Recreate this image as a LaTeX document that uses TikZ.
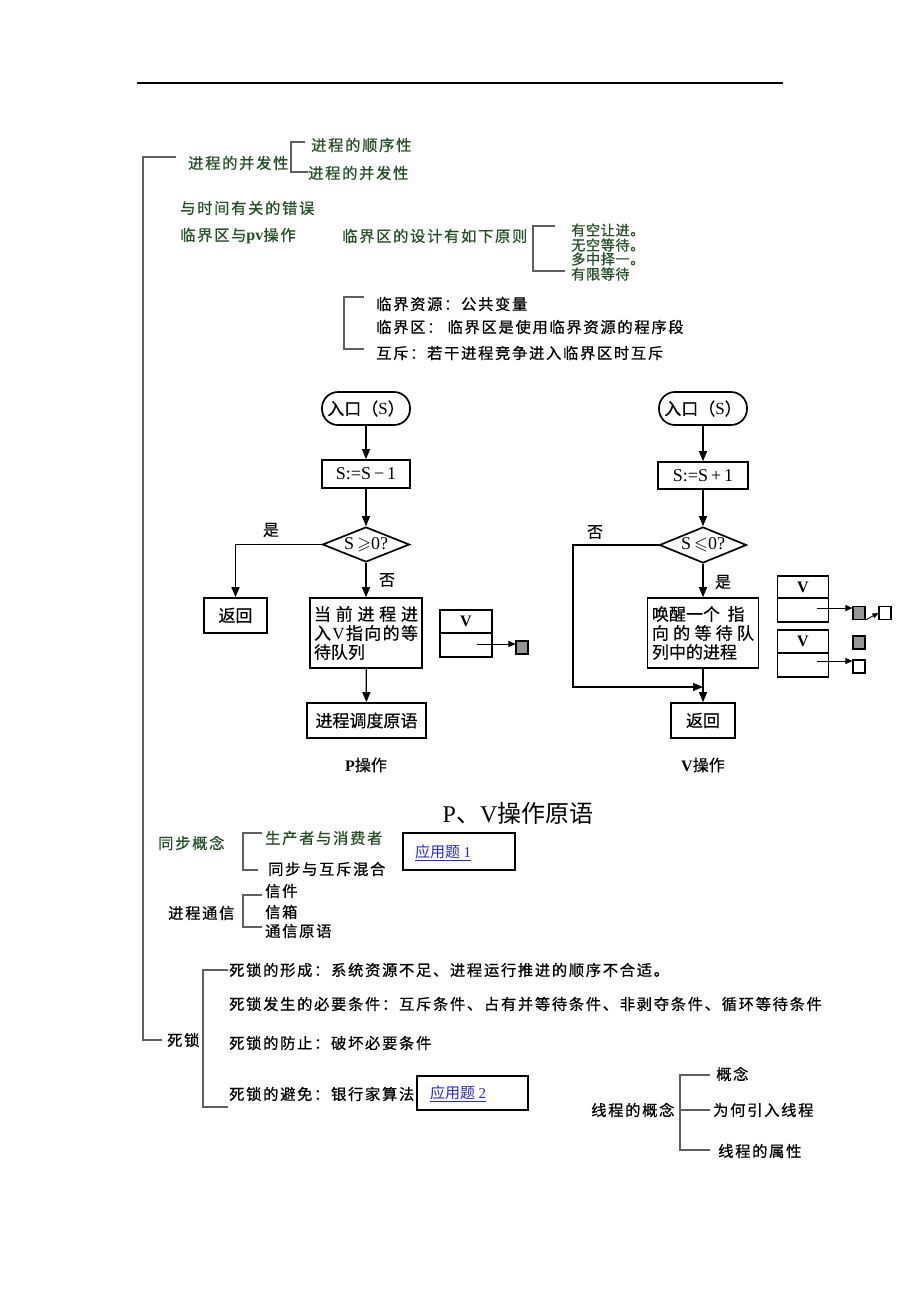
\documentclass[tikz,border=0pt]{standalone}
\usepackage{fontspec}
\usepackage{amssymb}
\setmainfont{Noto Sans CJK SC}
\newfontfamily\cj[LetterSpace=11,FakeBold=0.6]{Noto Sans CJK SC}
\newfontfamily\cjt[LetterSpace=4,FakeBold=0.6]{Noto Sans CJK SC}
\newfontfamily\fcf[FakeBold=0.4]{Noto Sans CJK SC}
\newfontfamily\tms{Liberation Serif}
\usetikzlibrary{arrows.meta,shapes.geometric}
\definecolor{dkgreen}{RGB}{35,80,35}
\definecolor{brk}{RGB}{95,95,95}
\definecolor{lnk}{RGB}{40,40,215}
\definecolor{sqgrey}{RGB}{150,150,150}
\begin{document}
\begin{tikzpicture}[x=1pt,y=-1pt,
 lbl/.style={anchor=west,inner sep=0pt,font=\cj\fontsize{15.3}{15}\selectfont},
 glbl/.style={lbl,text=dkgreen},
 plbl/.style={anchor=west,inner sep=0pt,text=dkgreen,font=\cjt\fontsize{14.2}{14}\selectfont},
 brkt/.style={draw=brk,line width=1.1pt},
 fcbox/.style={draw=black,line width=1.7pt,inner sep=0pt,font=\fcf\fontsize{17}{19}\selectfont},
 fcdia/.style={fcbox,diamond,aspect=2.5},
 fcarr/.style={line width=1.3pt,-{Triangle[length=10pt,width=8pt]}},
 smarr/.style={line width=0.9pt,-{Triangle[length=7pt,width=6pt]}},
 lbox/.style={draw=black,line width=1.1pt,inner sep=0pt},
 sq/.style={draw=black,line width=1.1pt,inner sep=0pt,minimum width=12pt,minimum height=13pt},
 lnktxt/.style={anchor=west,inner sep=0pt,text=lnk,font=\fontsize{15}{15}\selectfont},
 fclab/.style={inner sep=0pt,font=\fcf\fontsize{16}{16}\selectfont},
 ]
\useasboundingbox[fill=white] (0,0) rectangle (920,1302);
% top rule
\coordinate (tr1) at (137,83); \coordinate (tr2) at (783,83);
\draw[line width=1.3pt] (tr1) -- (tr2);
% main bracket
\coordinate (mb1) at (176,157); \coordinate (mb2) at (143,1040); \coordinate (mb3) at (162,1040);
\draw[brkt] (mb1) -| (mb2) -- (mb3);

% concurrency
\node[glbl] (conc) at (188,163) {进程的并发性};
\node[glbl] (seq) at (311,145) {进程的顺序性};
\node[glbl] (conc2) at (308,173) {进程的并发性};
\coordinate (cb1) at (305,142); \coordinate (cb2) at (291,172); \coordinate (cb3) at (308,172);
\draw[brkt] (cb1) -| (cb2) -- (cb3);

\node[glbl] (err) at (180,208) {与时间有关的错误};
\node[glbl] (cs) at (180,236) {临界区与{\tms\bfseries\fontsize{16}{16}\selectfont pv}操作};
\node[glbl] (csd) at (342,236) {临界区的设计有如下原则};
\coordinate (pb1) at (555,226); \coordinate (pb2) at (533,271); \coordinate (pb3) at (565,271);
\draw[brkt] (pb1) -| (pb2) -- (pb3);
\node[plbl] (p1) at (571,230) {有空让进。};
\node[plbl] (p2) at (571,245) {无空等待。};
\node[plbl] (p3) at (571,259) {多中择一。};
\node[plbl] (p4) at (571,274) {有限等待};

\coordinate (rb1) at (364,297); \coordinate (rb2) at (344,349); \coordinate (rb3) at (364,349);
\draw[brkt] (rb1) -| (rb2) -- (rb3);
\node[lbl] (r1) at (376,304) {临界资源：公共变量};
\node[lbl] (r2) at (376,327) {临界区： 临界区是使用临界资源的程序段};
\node[lbl] (r3) at (376,353) {互斥：若干进程竞争进入临界区时互斥};

% ---------- P operation ----------
\node[fcbox,rounded corners=16pt,minimum width=88pt,minimum height=33pt] (pin) at (366,408.5) {入口（{\tms S}）};
\node[fcbox,minimum width=88pt,minimum height=28pt] (ps) at (366,474) {\tms\fontsize{18}{18}\selectfont S:=S\,−\,1};
\node[fcdia,minimum width=87pt,minimum height=35pt] (pd) at (366,544.5) {\tms\fontsize{18}{18}\selectfont S\,$\geqslant$0?};
\node[fcbox,minimum width=63pt,minimum height=35pt] (pr) at (235.5,615.5) {返回};
\node[fcbox,minimum width=112pt,minimum height=70pt,align=left] (pq) at (366,633)
 {\makebox[104pt][s]{当\hfill 前\hfill 进\hfill 程\hfill 进}\\
  \makebox[104pt][s]{入\hfill {\tms V}\hfill 指\hfill 向\hfill 的\hfill 等}\\
  \makebox[104pt][l]{待队列}};
\node[fcbox,minimum width=119pt,minimum height=35pt] (psch) at (366.5,720.5) {进程调度原语};
\node[fclab] (plab) at (366,765) {{\tms\bfseries P}操作};
\node[fclab] (pyes) at (271,530) {是};
\node[fclab] (pno) at (387,580) {否};
\draw[fcarr] (pin) -- (ps);
\draw[fcarr] (ps) -- (pd);
\draw[fcarr] (pd.west) -| (pr.north);
\draw[fcarr] (pd.south) -- (pq.north);
\draw[fcarr] (pq) -- (psch);
% P queue
\node[lbox,minimum width=52pt,minimum height=23pt,font=\tms\bfseries\fontsize{16}{16}\selectfont] (pvt) at (466,621.5) {V};
\node[lbox,minimum width=52pt,minimum height=24pt] (pvb) at (466,645) {};
\node[sq,fill=sqgrey] (psq) at (522,647.5) {};
\coordinate (pvs) at (477,644);
\draw[smarr] (pvs) -- (psq.west |- pvs);

% ---------- V operation ----------
\node[fcbox,rounded corners=16pt,minimum width=88pt,minimum height=33pt] (vin) at (703,408.5) {入口（{\tms S}）};
\node[fcbox,minimum width=90pt,minimum height=27pt] (vs) at (703,475.5) {\tms\fontsize{18}{18}\selectfont S:=S\,+\,1};
\node[fcdia,minimum width=87pt,minimum height=36pt] (vd) at (703,545) {\tms\fontsize{18}{18}\selectfont S\,$\leqslant$0?};
\node[fcbox,minimum width=111pt,minimum height=70pt,align=left] (vq) at (703,633)
 {\makebox[102pt][l]{唤醒一个\ \ 指}\\
  \makebox[102pt][s]{向\hfill 的\hfill 等\hfill 待\hfill 队}\\
  \makebox[102pt][l]{列中的进程}};
\node[fcbox,minimum width=64pt,minimum height=35pt] (vr) at (703,720.5) {返回};
\node[fclab] (vlab) at (703,765) {{\tms\bfseries V}操作};
\node[fclab] (vno) at (595,532) {否};
\node[fclab] (vyes) at (723,582) {是};
\draw[fcarr] (vin) -- (vs);
\draw[fcarr] (vs) -- (vd);
\draw[fcarr] (vd.south) -- (vq.north);
\draw[fcarr] (vq) -- (vr);
\coordinate (vn1) at (573,687);
\draw[fcarr] (vd.west) -| (vn1) -- (vq.south |- vn1);
% V queues
\node[lbox,minimum width=51pt,minimum height=22pt,font=\tms\bfseries\fontsize{16}{16}\selectfont] (v1t) at (803,587) {V};
\node[lbox,minimum width=51pt,minimum height=24pt] (v1b) at (803,610) {};
\node[lbox,minimum width=51pt,minimum height=23pt,font=\tms\bfseries\fontsize{16}{16}\selectfont] (v2t) at (803,641.5) {V};
\node[lbox,minimum width=51pt,minimum height=24pt] (v2b) at (803,665) {};
\node[sq,fill=sqgrey] (sq1) at (859,613) {};
\node[sq,fill=white] (sq2) at (885,613) {};
\node[sq,fill=sqgrey] (sq3) at (859,642.5) {};
\node[sq,fill=white] (sq4) at (859,666.5) {};
\coordinate (va1) at (817,608);
\coordinate (va2) at (817,661);
\draw[smarr] (va1) -- (sq1.west |- va1);
\draw[smarr] (va2) -- (sq4.west |- va2);
\draw[line width=0.9pt,-{Triangle[length=6pt,width=5pt]}] (sq1.south east) -- (sq2.west);

% title
\node[inner sep=0pt,font=\fontsize{24}{24}\selectfont] (title) at (518,813) {{\tms P}、{\tms V}操作原语};

% synchronisation
\node[glbl] (sync) at (158,843) {同步概念};
\coordinate (sb1) at (262,833); \coordinate (sb2) at (243,870); \coordinate (sb3) at (258,870);
\draw[brkt] (sb1) -| (sb2) -- (sb3);
\node[glbl] (prod) at (265,838) {生产者与消费者};
\node[lbl] (mix) at (268,869) {同步与互斥混合};
\node[lbox,minimum width=112pt,minimum height=37pt] (app1) at (459,851.5) {};
\node[lnktxt] (app1t) at (415,853) {\underline{应用题 {\tms 1}}};

% communication
\node[lbl] (comm) at (168,913) {进程通信};
\coordinate (mb4) at (262,895); \coordinate (mb5) at (243,927); \coordinate (mb6) at (262,927);
\draw[brkt] (mb4) -| (mb5) -- (mb6);
\node[lbl] (c1) at (265,891) {信件};
\node[lbl] (c2) at (265,912) {信箱};
\node[lbl] (c3) at (265,931) {通信原语};

% deadlock
\node[lbl] (dl) at (167,1040) {死锁};
\coordinate (db1) at (228,970); \coordinate (db2) at (203,1107); \coordinate (db3) at (228,1107);
\draw[brkt] (db1) -| (db2) -- (db3);
\node[lbl] (d1) at (229,970) {死锁的形成：系统资源不足、进程运行推进的顺序不合适。};
\node[lbl] (d2) at (229,1004) {死锁发生的必要条件：互斥条件、占有并等待条件、非剥夺条件、循环等待条件};
\node[lbl] (d3) at (229,1043) {死锁的防止：破坏必要条件};
\node[lbl] (d4) at (229,1094) {死锁的避免：银行家算法};
\node[lbox,minimum width=111pt,minimum height=34pt] (app2) at (472.5,1093) {};
\node[lnktxt] (app2t) at (430,1094) {\underline{应用题 {\tms 2}}};

% threads
\node[lbl] (th) at (591,1110) {线程的概念};
\coordinate (tb1) at (710,1075); \coordinate (tb2) at (680,1150); \coordinate (tb3) at (710,1150);
\coordinate (tb4) at (680,1110); \coordinate (tb5) at (710,1110);
\draw[brkt] (tb1) -| (tb2) -- (tb3);
\draw[brkt] (tb4) -- (tb5);
\node[lbl] (t1) at (716,1074) {概念};
\node[lbl] (t2) at (713,1110) {为何引入线程};
\node[lbl] (t3) at (718,1151) {线程的属性};
\end{tikzpicture}
\end{document}
